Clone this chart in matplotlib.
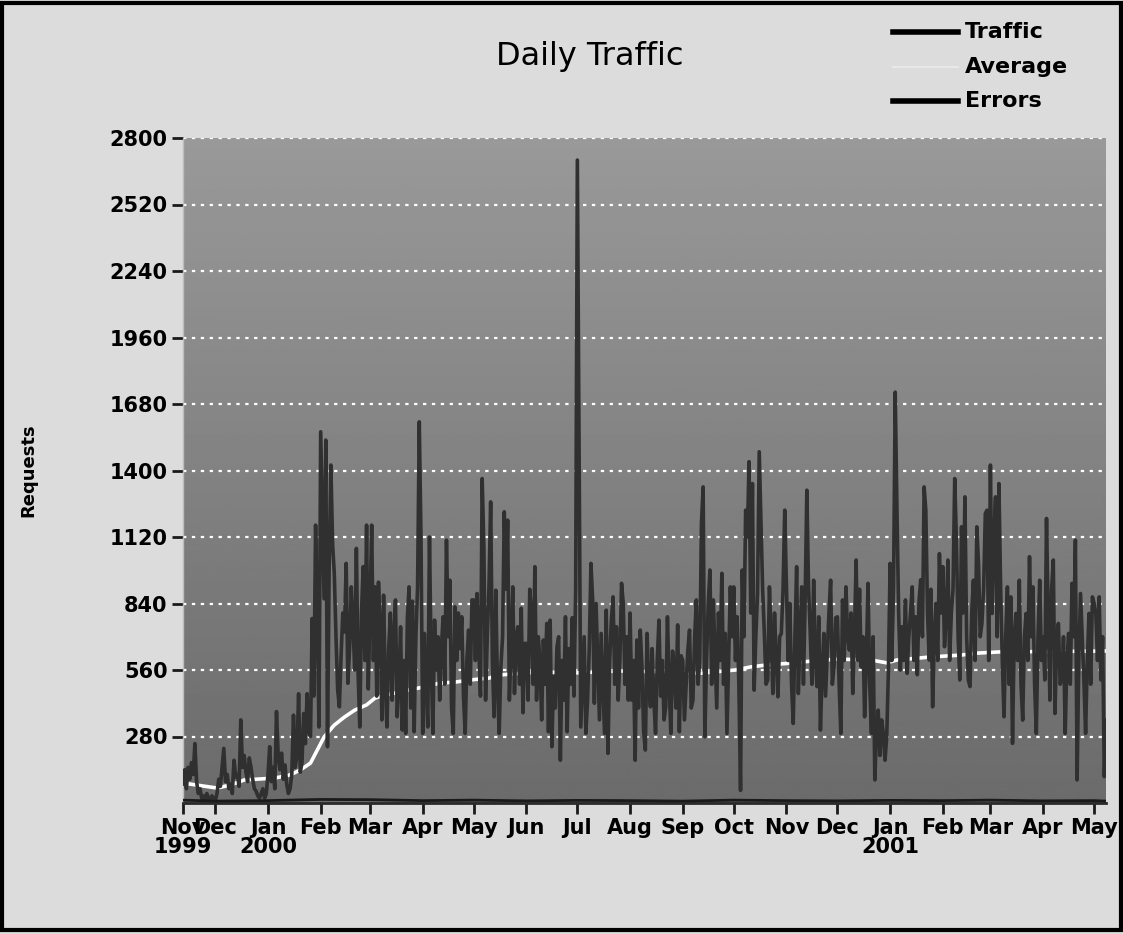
import numpy as np
import pandas as pd
import matplotlib
matplotlib.use("Agg")
import matplotlib.pyplot as plt
import matplotlib.dates as mdates
from matplotlib.lines import Line2D
from matplotlib.patches import Rectangle

# daily requests, one list per month (first list starts on Nov 12 1999)
traffic_1999_11 = [80, 140, 60, 150, 100, 170, 120, 250, 90, 40, 60, 20, 30, 10, 40, 20, 10, 30, 20]
traffic_1999_12 = [10, 40, 100, 70, 150, 230, 90, 120, 60, 80, 40, 180, 110, 120, 70, 350, 150, 200, 130, 90,
                   190, 150, 100, 60, 50, 30, 20, 40, 60, 20, 40]
traffic_2000_01 = [120, 237, 90, 150, 60, 385, 200, 140, 210, 100, 160, 80, 40, 60, 120, 370, 150, 200, 460, 130,
                   170, 377, 250, 460, 300, 280, 777, 450, 1170, 780, 320]
traffic_2000_02 = [1563, 1212, 860, 1528, 237, 1000, 1423, 1093, 967, 700, 475, 405, 620, 800, 720, 1009, 504, 650,
                   910, 750, 560, 1072, 550, 320, 800, 995, 600, 1170, 480]
traffic_2000_03 = [800, 1170, 600, 910, 450, 930, 742, 350, 875, 500, 320, 650, 800, 433, 700, 855, 363, 500, 742,
                   307, 600, 293, 780, 910, 400, 850, 300, 700, 910, 1605, 1120]
traffic_2000_04 = [293, 714, 500, 320, 1120, 600, 293, 770, 560, 700, 433, 650, 784, 500, 1107, 700, 938, 400, 293,
                   826, 600, 800, 650, 784, 450, 293, 600, 728, 500, 855]
traffic_2000_05 = [855, 600, 882, 658, 450, 1366, 1079, 433, 700, 910, 1268, 600, 363, 896, 500, 293, 573, 700, 1226,
                   900, 1191, 433, 650, 910, 461, 700, 742, 500, 820, 380, 672]
traffic_2000_06 = [672, 433, 900, 800, 500, 995, 433, 700, 602, 350, 686, 500, 756, 300, 770, 237, 532, 400, 658, 700,
                   180, 600, 433, 784, 300, 650, 500, 780, 450, 900]
traffic_2000_07 = [2707, 1486, 320, 504, 700, 293, 433, 650, 1009, 855, 420, 840, 600, 350, 714, 500, 293, 812, 209,
                   600, 770, 868, 500, 742, 433, 600, 925, 840, 500, 700, 433]
traffic_2000_08 = [800, 433, 600, 180, 686, 400, 728, 573, 300, 223, 714, 500, 405, 650, 433, 293, 600, 770, 450, 600,
                   350, 405, 784, 500, 293, 640, 573, 400, 750, 300, 620]
traffic_2000_09 = [600, 350, 500, 644, 728, 400, 433, 700, 855, 500, 600, 1177, 1331, 279, 600, 840, 981, 500, 855,
                   630, 400, 800, 600, 967, 500, 714, 293, 600, 910, 700]
traffic_2000_10 = [910, 600, 784, 500, 53, 981, 700, 1233, 1120, 1437, 800, 1345, 475, 700, 882, 1479, 1191, 900, 714,
                   500, 518, 910, 700, 461, 800, 600, 447, 700, 714, 900, 1233]
traffic_2000_11 = [925, 600, 840, 500, 335, 700, 995, 461, 700, 910, 500, 850, 1317, 910, 714, 500, 938, 600, 490, 784,
                   307, 550, 714, 450, 630, 800, 938, 500, 573, 780]
traffic_2000_12 = [784, 500, 293, 855, 600, 910, 700, 644, 800, 461, 700, 1023, 600, 900, 573, 700, 363, 600, 925, 500,
                   293, 700, 97, 300, 391, 200, 350, 293, 180, 279, 560]
traffic_2001_01 = [1009, 600, 900, 1730, 1247, 800, 560, 742, 600, 855, 546, 700, 800, 910, 600, 784, 540, 850, 940,
                   700, 1331, 1233, 798, 602, 900, 405, 700, 840, 600, 1050, 800]
traffic_2001_02 = [995, 658, 800, 1023, 600, 798, 900, 1366, 1107, 700, 518, 1163, 800, 1289, 700, 518, 490, 800, 938,
                   600, 1163, 1009, 700, 756, 900, 1219, 1233, 600]
traffic_2001_03 = [1423, 798, 1100, 1289, 700, 1345, 910, 600, 363, 700, 910, 500, 868, 251, 700, 798, 600, 938, 500,
                   349, 700, 798, 600, 1037, 700, 910, 500, 293, 700, 938, 600]
traffic_2001_04 = [700, 518, 1198, 784, 433, 900, 1023, 377, 700, 756, 500, 518, 700, 293, 600, 714, 500, 925, 700,
                   1107, 97, 600, 882, 700, 518, 293, 600, 798, 500, 868]
traffic_2001_05 = [840, 798, 600, 868, 518, 700, 111, 350]

month_starts = ["1999-11-12", "1999-12-01", "2000-01-01", "2000-02-01", "2000-03-01", "2000-04-01",
                "2000-05-01", "2000-06-01", "2000-07-01", "2000-08-01", "2000-09-01", "2000-10-01",
                "2000-11-01", "2000-12-01", "2001-01-01", "2001-02-01", "2001-03-01", "2001-04-01",
                "2001-05-01"]
monthly_traffic = [traffic_1999_11, traffic_1999_12, traffic_2000_01, traffic_2000_02, traffic_2000_03,
                   traffic_2000_04, traffic_2000_05, traffic_2000_06, traffic_2000_07, traffic_2000_08,
                   traffic_2000_09, traffic_2000_10, traffic_2000_11, traffic_2000_12, traffic_2001_01,
                   traffic_2001_02, traffic_2001_03, traffic_2001_04, traffic_2001_05]

# running average
avg_dates = ["1999-11-12", "1999-12-02", "1999-12-10", "1999-12-18", "2000-01-05", "2000-01-14", "2000-01-20",
             "2000-01-26", "2000-01-30", "2000-02-03", "2000-02-09", "2000-02-15", "2000-02-21", "2000-02-28",
             "2000-03-04", "2000-03-10", "2000-03-16", "2000-03-24", "2000-04-02", "2000-04-11", "2000-04-20",
             "2000-04-29", "2000-05-10", "2000-05-16", "2000-06-09", "2000-07-02", "2000-07-26", "2000-08-18",
             "2000-09-11", "2000-10-02", "2000-10-11", "2000-10-20", "2000-11-04", "2000-11-10", "2000-12-01",
             "2000-12-21", "2000-12-30", "2001-01-05", "2001-01-25", "2001-02-12", "2001-02-21", "2001-03-06",
             "2001-05-08"]
avg_values = [84, 63, 76, 97, 105, 118, 139, 168, 223, 278, 328, 362, 391, 413, 442, 455, 463, 476, 489, 505, 509,
              518, 526, 539, 552, 548, 556, 552, 546, 560, 573, 581, 589, 594, 606, 602, 590, 602, 615, 623, 631,
              636, 640]

# errors stay close to zero
error_dates = month_starts + ["2001-05-08"]
error_values = [12, 8, 10, 15, 14, 10, 12, 9, 11, 10, 8, 12, 10, 9, 11, 10, 12, 9, 10, 8]

tick_labels = ["Nov\n1999", "Dec", "Jan\n2000", "Feb", "Mar", "Apr", "May", "Jun", "Jul", "Aug", "Sep", "Oct",
               "Nov", "Dec", "Jan\n2001", "Feb", "Mar", "Apr", "May"]

# build the daily frame
frames = []
for start, values in zip(month_starts, monthly_traffic):
    frames.append(pd.DataFrame({"date": pd.date_range(start, periods=len(values), freq="D"), "requests": values}))
data_frame = pd.concat(frames, ignore_index=True)

plt.rcParams["font.family"] = ["DejaVu Sans"]

fig = plt.figure(figsize=(11.23, 9.34), dpi=100, facecolor="#dcdcdc")
ax = fig.add_axes([183 / 1123, 1 - 803 / 934, (1106 - 183) / 1123, (803 - 138) / 934])

x_start = pd.Timestamp("1999-11-12")
x_end = pd.Timestamp("2001-05-08")

# gradient background of the plot area: lighter at the top, darker at the bottom
gradient = np.linspace(0.42, 0.60, 256).reshape(-1, 1)
ax.imshow(gradient, extent=[mdates.date2num(x_start), mdates.date2num(x_end), 0, 2800], aspect="auto",
          cmap="gray", vmin=0, vmax=1, zorder=0, origin="lower")

yticks = list(range(280, 2801, 280))
for y in yticks:
    ax.axhline(y, color="white", linestyle=(0, (1.5, 2.5)), linewidth=1.6, zorder=1)

avg_line, = ax.plot(pd.to_datetime(avg_dates), avg_values, color="white", linewidth=2.6, zorder=2)
traffic_line, = ax.plot(data_frame["date"], data_frame["requests"], color="#303030", linewidth=2.6, zorder=3)
error_line, = ax.plot(pd.to_datetime(error_dates), error_values, color="#1a1a1a", linewidth=2, zorder=4)

ax.set_xlim(x_start, x_end)
ax.set_ylim(0, 2800)
ax.set_yticks(yticks)
ax.set_yticklabels([str(y) for y in yticks], fontsize=15, fontweight="bold")

xticks = pd.to_datetime(month_starts)
ax.set_xticks(xticks)
ax.set_xticklabels(tick_labels, fontsize=15, fontweight="bold", linespacing=0.9)
ax.tick_params(axis="both", direction="out", length=8, width=2, color="#1a1a1a", pad=3)

for side in ["top", "right"]:
    ax.spines[side].set_visible(False)
ax.spines["bottom"].set_color("#2a2a2a")
ax.spines["bottom"].set_linewidth(2)
ax.spines["left"].set_color("#bdbdbd")
ax.spines["left"].set_linewidth(1)

ax.set_ylabel("Requests", fontsize=13, fontweight="bold")
ax.yaxis.set_label_coords(-0.158, 0.5)

fig.text(590 / 1123, 1 - 57 / 934, "Daily Traffic", fontsize=23, ha="center", va="center")

# legend in the top right corner
legend_rows = [(32, "Traffic", "black", 4), (67, "Average", "#e8e8e8", 1.5), (101, "Errors", "black", 4)]
for y_px, label, color, width in legend_rows:
    fy = 1 - y_px / 934
    fig.add_artist(Line2D([893 / 1123, 958 / 1123], [fy, fy], color=color,
                          linewidth=width, transform=fig.transFigure))
    fig.text(965 / 1123, fy, label, fontsize=16, fontweight="bold", ha="left", va="center")

# dark frame around the picture
fig.add_artist(Rectangle((0.002, 0.004), 0.996, 0.993, transform=fig.transFigure, fill=False,
                         edgecolor="black", linewidth=3))

plt.savefig("out.png", dpi=100, facecolor=fig.get_facecolor())
